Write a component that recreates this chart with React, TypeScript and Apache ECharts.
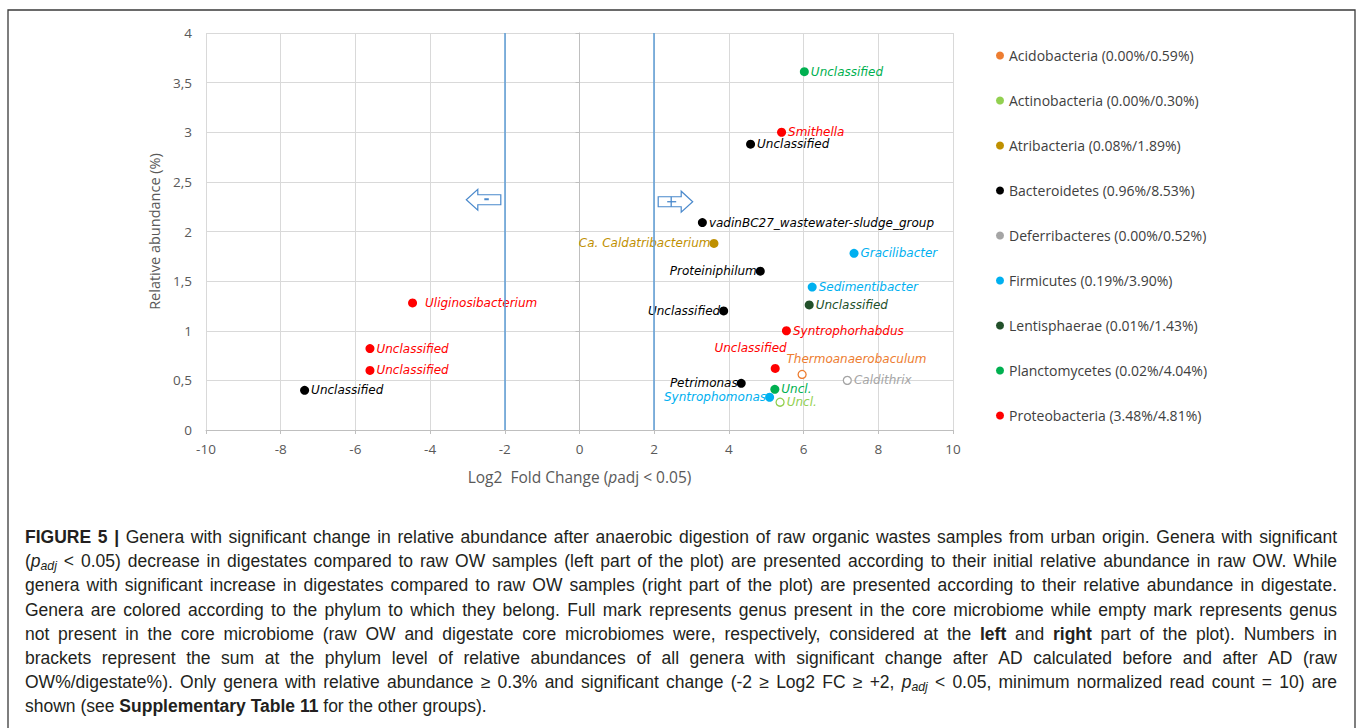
import React, { useEffect, useRef } from 'react';
import * as echarts from 'echarts';

interface Genus {
  genus: string;
  lfc: number; // Log2 fold change
  abundance: number; // relative abundance (%)
  core: boolean; // present in the core microbiome
}

const phyla = [
  'Acidobacteria',
  'Actinobacteria',
  'Atribacteria',
  'Bacteroidetes',
  'Deferribacteres',
  'Firmicutes',
  'Lentisphaerae',
  'Planctomycetes',
  'Proteobacteria',
];

// Sum of relative abundances per phylum, raw OW % / digestate %
const phylumSums = [
  '(0.00%/0.59%)',
  '(0.00%/0.30%)',
  '(0.08%/1.89%)',
  '(0.96%/8.53%)',
  '(0.00%/0.52%)',
  '(0.19%/3.90%)',
  '(0.01%/1.43%)',
  '(0.02%/4.04%)',
  '(3.48%/4.81%)',
];

const phylumColors = [
  '#ED7D31',
  '#92D050',
  '#BF9000',
  '#000000',
  '#A5A5A5',
  '#00B0F0',
  '#22502A',
  '#00B050',
  '#FF0000',
];

const acidobacteria: Genus[] = [
  { genus: 'Thermoanaerobaculum', lfc: 5.96, abundance: 0.56, core: false },
];
const actinobacteria: Genus[] = [
  { genus: 'Uncl.', lfc: 5.37, abundance: 0.28, core: false },
];
const atribacteria: Genus[] = [
  { genus: 'Ca. Caldatribacterium', lfc: 3.6, abundance: 1.88, core: true },
];
const bacteroidetes: Genus[] = [
  { genus: 'Unclassified', lfc: 4.58, abundance: 2.88, core: true },
  { genus: 'vadinBC27_wastewater-sludge_group', lfc: 3.29, abundance: 2.09, core: true },
  { genus: 'Proteiniphilum', lfc: 4.84, abundance: 1.6, core: true },
  { genus: 'Unclassified', lfc: 3.86, abundance: 1.2, core: true },
  { genus: 'Petrimonas', lfc: 4.33, abundance: 0.47, core: true },
  { genus: 'Unclassified', lfc: -7.36, abundance: 0.4, core: true },
];
const deferribacteres: Genus[] = [
  { genus: 'Caldithrix', lfc: 7.17, abundance: 0.5, core: false },
];
const firmicutes: Genus[] = [
  { genus: 'Gracilibacter', lfc: 7.35, abundance: 1.78, core: true },
  { genus: 'Sedimentibacter', lfc: 6.23, abundance: 1.44, core: true },
  { genus: 'Syntrophomonas', lfc: 5.09, abundance: 0.33, core: true },
];
const lentisphaerae: Genus[] = [
  { genus: 'Unclassified', lfc: 6.15, abundance: 1.26, core: true },
];
const planctomycetes: Genus[] = [
  { genus: 'Unclassified', lfc: 6.02, abundance: 3.61, core: true },
  { genus: 'Uncl.', lfc: 5.23, abundance: 0.41, core: true },
];
const proteobacteria: Genus[] = [
  { genus: 'Smithella', lfc: 5.41, abundance: 3.0, core: true },
  { genus: 'Syntrophorhabdus', lfc: 5.54, abundance: 1.0, core: true },
  { genus: 'Unclassified', lfc: 5.24, abundance: 0.62, core: true },
  { genus: 'Uliginosibacterium', lfc: -4.47, abundance: 1.28, core: true },
  { genus: 'Unclassified', lfc: -5.61, abundance: 0.82, core: true },
  { genus: 'Unclassified', lfc: -5.61, abundance: 0.6, core: true },
];

const generaByPhylum = [
  acidobacteria,
  actinobacteria,
  atribacteria,
  bacteroidetes,
  deferribacteres,
  firmicutes,
  lentisphaerae,
  planctomycetes,
  proteobacteria,
];

// Where each genus name sits relative to its mark
type Side = 'right' | 'left' | 'farRight' | 'aboveLeft' | 'aboveRight';
const labelSides: Side[][] = [
  ['aboveRight'],
  ['right'],
  ['left'],
  ['right', 'right', 'left', 'left', 'left', 'right'],
  ['right'],
  ['right', 'right', 'left'],
  ['right'],
  ['right', 'right'],
  ['right', 'right', 'aboveLeft', 'farRight', 'right', 'right'],
];

const xTicks = { min: -10, max: 10, interval: 2 };
const yTicks = { min: 0, max: 4, interval: 0.5 };
const foldChangeThresholds = [-2, 2];

// Direction hints drawn next to the threshold lines
const directionArrows: { at: number; y: number; dir: number }[] = [
  { at: -2, y: 2.32, dir: -1 },
  { at: 2, y: 2.3, dir: 1 },
];

type Seg = { t: string; b?: boolean; i?: boolean; sub?: boolean };
const captionLines: Seg[][] = [
  [
    { t: 'FIGURE 5 |', b: true },
    {
      t: ' Genera with significant change in relative abundance after anaerobic digestion of raw organic wastes samples from urban origin. Genera with significant',
    },
  ],
  [
    { t: '(' },
    { t: 'p', i: true },
    { t: 'adj', i: true, sub: true },
    {
      t: ' < 0.05) decrease in digestates compared to raw OW samples (left part of the plot) are presented according to their initial relative abundance in raw OW. While',
    },
  ],
  [
    {
      t: 'genera with significant increase in digestates compared to raw OW samples (right part of the plot) are presented according to their relative abundance in digestate.',
    },
  ],
  [
    {
      t: 'Genera are colored according to the phylum to which they belong. Full mark represents genus present in the core microbiome while empty mark represents genus',
    },
  ],
  [
    {
      t: 'not present in the core microbiome (raw OW and digestate core microbiomes were, respectively, considered at the ',
    },
    { t: 'left', b: true },
    { t: ' and ' },
    { t: 'right', b: true },
    { t: ' part of the plot). Numbers in' },
  ],
  [
    {
      t: 'brackets represent the sum at the phylum level of relative abundances of all genera with significant change after AD calculated before and after AD (raw',
    },
  ],
  [
    {
      t: 'OW%/digestate%). Only genera with relative abundance \u2265 0.3% and significant change (-2 \u2265 Log2 FC \u2265 +2, ',
    },
    { t: 'p', i: true },
    { t: 'adj', i: true, sub: true },
    { t: ' < 0.05, minimum normalized read count = 10) are' },
  ],
  [
    { t: 'shown (see ' },
    { t: 'Supplementary Table 11', b: true },
    { t: ' for the other groups).' },
  ],
];

const CHART_FONT = '"Open Sans", sans-serif';
const LABEL_FONT = '"DejaVu Sans", sans-serif';
const CAPTION_FONT = '"Liberation Sans", Arial, sans-serif';
const AXIS_GRAY = '#595959';

function labelFor(side: Side) {
  switch (side) {
    case 'left':
      return { position: 'left', distance: -1 };
    case 'farRight':
      return { position: 'right', distance: 8 };
    case 'aboveLeft':
      return { position: [16, -15.5], align: 'right', verticalAlign: 'middle' };
    case 'aboveRight':
      return { position: [-11, -10.5], align: 'left', verticalAlign: 'middle' };
    default:
      return { position: 'right', distance: 2 };
  }
}

function buildOption(): echarts.EChartsCoreOption {
  const names = phyla.map((p, i) => `${p} ${phylumSums[i]}`);
  const series: any[] = phyla.map((_, i) => {
    const color = phylumColors[i];
    return {
      name: names[i],
      type: 'scatter',
      symbol: 'circle',
      symbolSize: 9,
      itemStyle: { color, opacity: 1 },
      emphasis: { disabled: true },
      label: {
        show: true,
        formatter: '{b}',
        color,
        fontFamily: LABEL_FONT,
        fontStyle: 'italic',
        fontSize: 12,
      },
      z: 3,
      data: generaByPhylum[i].map((g, j) => ({
        name: g.genus,
        value: [g.lfc, g.abundance],
        symbolSize: g.core ? 9 : 8,
        itemStyle: g.core
          ? undefined
          : { color: '#ffffff', borderColor: color, borderWidth: 1.3 },
        label: labelFor(labelSides[i][j]),
      })),
    };
  });

  series.push({
    name: 'thresholds',
    type: 'scatter',
    data: [],
    silent: true,
    markLine: {
      silent: true,
      symbol: ['none', 'none'],
      label: { show: false },
      lineStyle: { color: '#5B9BD5', width: 1.5, type: 'solid' },
      data: foldChangeThresholds.map((v) => ({ xAxis: v })),
    },
    z: 2,
  });

  return {
    animation: false,
    backgroundColor: '#ffffff',
    textStyle: { fontFamily: CHART_FONT },
    grid: {
      left: 206,
      right: 407,
      top: 33,
      bottom: 298,
      containLabel: false,
      outerBoundsMode: 'none',
    },
    legend: {
      data: names,
      orient: 'vertical',
      left: 991,
      top: 43,
      icon: 'circle',
      itemWidth: 8,
      itemHeight: 8,
      itemGap: 30,
      selectedMode: false,
      textStyle: {
        color: '#404040',
        fontSize: 14,
        fontFamily: CHART_FONT,
        lineHeight: 15,
      },
    },
    xAxis: {
      type: 'value',
      ...xTicks,
      name: '{n|Log2  Fold Change (}{p|p}{n|adj < 0.05)}',
      nameLocation: 'middle',
      nameGap: 39,
      nameTextStyle: {
        rich: {
          n: { fontSize: 15.5, color: AXIS_GRAY, fontFamily: CHART_FONT },
          p: { fontSize: 15.5, color: AXIS_GRAY, fontFamily: CHART_FONT, fontStyle: 'italic' },
        },
      },
      axisLine: { show: true, onZero: false, lineStyle: { color: '#BFBFBF', width: 1 } },
      axisTick: { show: true, length: 4, lineStyle: { color: '#BFBFBF' } },
      splitLine: { show: true, lineStyle: { color: '#D9D9D9', width: 1 } },
      axisLabel: { color: AXIS_GRAY, fontSize: 13.5, margin: 12, fontFamily: CHART_FONT },
    },
    yAxis: {
      type: 'value',
      ...yTicks,
      name: 'Relative abundance (%)',
      nameLocation: 'middle',
      nameGap: 43,
      nameTextStyle: { fontSize: 14.5, color: AXIS_GRAY, fontFamily: CHART_FONT },
      axisLine: { show: true, lineStyle: { color: '#BFBFBF', width: 1 } },
      axisTick: { show: true, length: 4, lineStyle: { color: '#BFBFBF' } },
      splitLine: { show: true, lineStyle: { color: '#D9D9D9', width: 1 } },
      axisLabel: {
        color: AXIS_GRAY,
        fontSize: 13.5,
        margin: 14,
        fontFamily: CHART_FONT,
        formatter: (v: number) => String(v).replace('.', ','),
      },
    },
    series,
  };
}

function arrowGraphics(chart: echarts.ECharts): any[] {
  const stroke = '#4A89CC';
  const out: any[] = [];
  directionArrows.forEach(({ at, y, dir }) => {
    const [px, cy] = chart.convertToPixel({ gridIndex: 0 }, [at, y]) as number[];
    const x0 = px + dir * 4;
    const xb = x0 + dir * 23;
    const xt = xb + dir * 11.5;
    out.push({
      type: 'polygon',
      silent: true,
      z: 10,
      shape: {
        points: [
          [x0, cy - 5],
          [xb, cy - 5],
          [xb, cy - 10.5],
          [xt, cy],
          [xb, cy + 10.5],
          [xb, cy + 5],
          [x0, cy + 5],
        ],
      },
      style: { fill: '#ffffff', stroke, lineWidth: 1.2 },
    });
    if (dir < 0) {
      out.push({
        type: 'line',
        silent: true,
        z: 11,
        shape: { x1: x0 - 16.5, y1: cy - 0.5, x2: x0 - 12, y2: cy - 0.5 },
        style: { stroke, lineWidth: 2 },
      });
    } else {
      out.push({
        type: 'line',
        silent: true,
        z: 11,
        shape: { x1: x0 + 13, y1: cy - 5, x2: x0 + 13, y2: cy + 5 },
        style: { stroke, lineWidth: 1.3 },
      });
      out.push({
        type: 'line',
        silent: true,
        z: 11,
        shape: { x1: x0 + 9, y1: cy, x2: x0 + 18, y2: cy },
        style: { stroke, lineWidth: 1.3 },
      });
    }
  });
  return out;
}

function captionGraphics(): any[] {
  const left = 25;
  const right = 1337;
  const top = 537;
  const lineStep = 24.2;
  const baseSize = 17.5;
  const ctx = document.createElement('canvas').getContext('2d')!;
  const sizeOf = (s: Seg, size: number) => (s.sub ? size * 0.7 : size);
  const fontOf = (s: Seg, size: number) =>
    `${s.i ? 'italic ' : ''}${s.b ? 'bold ' : ''}${sizeOf(s, size)}px ${CAPTION_FONT}`;
  const measure = (t: string, s: Seg, size: number) => {
    ctx.font = fontOf(s, size);
    return ctx.measureText(t).width;
  };
  const out: any[] = [];
  captionLines.forEach((line, li) => {
    const words: { t: string; seg: Seg }[][] = [];
    let cur: { t: string; seg: Seg }[] = [];
    line.forEach((seg) => {
      seg.t.split(' ').forEach((p, k) => {
        if (k > 0) {
          if (cur.length) words.push(cur);
          cur = [];
        }
        if (p) cur.push({ t: p, seg });
      });
    });
    if (cur.length) words.push(cur);

    const layout = (size: number) => {
      const widths = words.map((w) => w.reduce((a, p) => a + measure(p.t, p.seg, size), 0));
      const total = widths.reduce((a, b) => a + b, 0);
      const space = measure(' ', { t: ' ' }, size);
      return { widths, total, space };
    };
    let size = baseSize;
    let m = layout(size);
    const avail = right - left;
    const natural = m.total + m.space * (words.length - 1);
    if (natural > avail) {
      size = (size * avail) / natural;
      m = layout(size);
    }
    const justified = li < captionLines.length - 1;
    const gap = justified ? (avail - m.total) / (words.length - 1) : m.space;
    const y = top + li * lineStep;
    let x = left;
    words.forEach((w, wi) => {
      let px = x;
      w.forEach((p) => {
        out.push({
          type: 'text',
          silent: true,
          x: px,
          y: y + (p.seg.sub ? 4.5 : 0),
          style: {
            text: p.t,
            fill: '#231F20',
            fontFamily: CAPTION_FONT,
            fontSize: sizeOf(p.seg, size),
            fontWeight: p.seg.b ? 'bold' : 'normal',
            fontStyle: p.seg.i ? 'italic' : 'normal',
            align: 'left',
            verticalAlign: 'middle',
          },
        });
        px += measure(p.t, p.seg, size);
      });
      x += m.widths[wi] + gap;
    });
  });
  return out;
}

export default function App() {
  const ref = useRef<HTMLDivElement>(null);
  useEffect(() => {
    if (!ref.current) return;
    const chart = echarts.init(ref.current, undefined, { renderer: 'svg' });
    chart.setOption(buildOption());
    const frame = {
      type: 'rect',
      silent: true,
      z: 0,
      shape: { x: 8, y: 10, width: 1347, height: 740 },
      style: { fill: 'none', stroke: '#3A3A3A', lineWidth: 1.3 },
    };
    chart.setOption({
      graphic: [frame, ...arrowGraphics(chart), ...captionGraphics()],
    });
    return () => chart.dispose();
  }, []);
  return (
    <div
      ref={ref}
      style={{ position: 'fixed', left: 0, top: 0, width: 1360, height: 728, background: '#fff' }}
    />
  );
}
